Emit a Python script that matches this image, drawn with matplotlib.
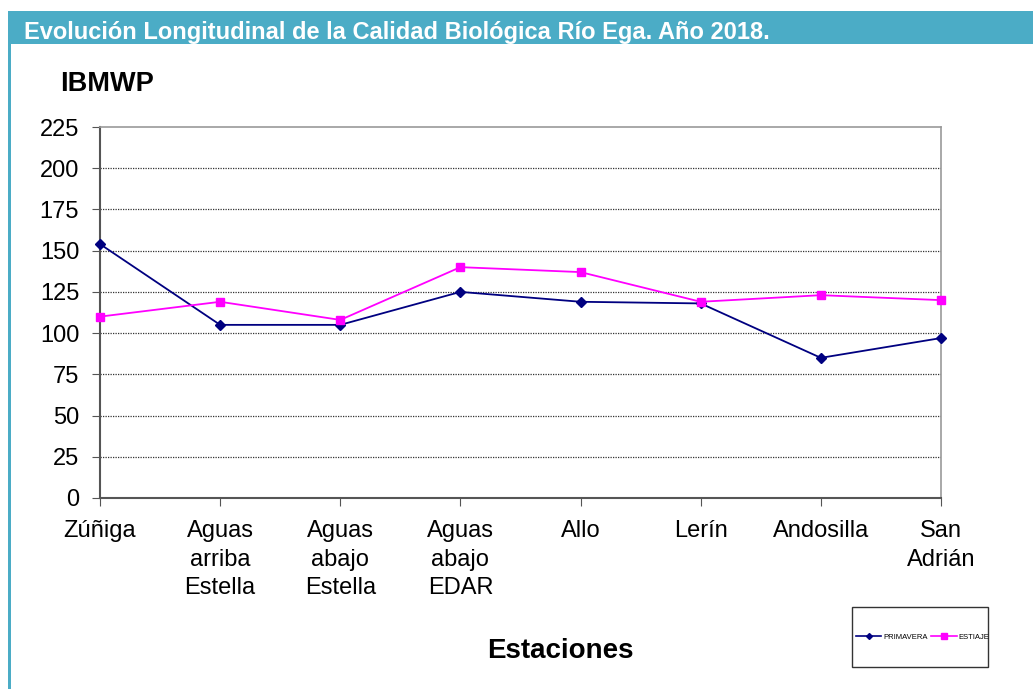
import matplotlib.pyplot as plt
from matplotlib.patches import Rectangle
from matplotlib.lines import Line2D

plt.rcParams['font.family'] = ['Liberation Sans', 'DejaVu Sans']

# data
estaciones = ["Zúñiga", "Aguas\narriba\nEstella", "Aguas\nabajo\nEstella", "Aguas\nabajo\nEDAR",
              "Allo", "Lerín", "Andosilla", "San\nAdrián"]
primavera = [154, 105, 105, 125, 119, 118, 85, 97]
estiaje = [110, 119, 108, 140, 137, 119, 123, 120]
yticks = [0, 25, 50, 75, 100, 125, 150, 175, 200, 225]

W, H = 1033, 689
fig = plt.figure(figsize=(W / 100, H / 100), dpi=100)

# header band and left border
fig.patches.append(Rectangle((8 / W, 1 - 44 / H), 1 - 8 / W, 33 / H, transform=fig.transFigure,
                             facecolor='#4BACC6', edgecolor='none'))
fig.patches.append(Rectangle((8 / W, 0), 3 / W, 1 - 44 / H, transform=fig.transFigure,
                             facecolor='#4BACC6', edgecolor='none'))
fig.text(24 / W, 1 - 32 / H, "Evolución Longitudinal de la Calidad Biológica Río Ega. Año 2018.",
         color='white', fontsize=17, fontweight='bold', va='center', ha='left')

ax = fig.add_axes([100 / W, 1 - 498 / H, 841 / W, 371 / H])
x = list(range(len(estaciones)))
ax.plot(x, primavera, color='#000080', marker='D', markersize=5, linewidth=1.3, label='PRIMAVERA',
        clip_on=False, zorder=3)
ax.plot(x, estiaje, color='#FF00FF', marker='s', markersize=6, linewidth=1.3, label='ESTIAJE',
        clip_on=False, zorder=3)

ax.set_xlim(0, 7)
ax.set_ylim(0, 225)
ax.set_yticks(yticks)
ax.set_xticks(x)
ax.set_xticklabels(estaciones, fontsize=17, linespacing=1.38)
ax.tick_params(axis='y', labelsize=17, length=6, direction='out', color='#555555', pad=9)
ax.tick_params(axis='x', length=6, direction='out', color='#555555', pad=10)
for v in yticks[1:-1]:
    ax.axhline(v, color='#333333', linewidth=0.9, linestyle=(0, (1, 1)), zorder=1)
for s in ['left', 'bottom']:
    ax.spines[s].set_color('#555555')
    ax.spines[s].set_linewidth(1.5)
for s in ['top', 'right']:
    ax.spines[s].set_color('#999999')
    ax.spines[s].set_linewidth(1.2)

fig.text(60 / W, 1 - 84 / H, "IBMWP", fontsize=19.5, fontweight='bold', va='center', ha='left')
fig.text(560 / W, 1 - 651 / H, "Estaciones", fontsize=20, fontweight='bold', va='center', ha='center')

# legend box
fig.patches.append(Rectangle((852 / W, 1 - 667 / H), 136 / W, 60 / H, transform=fig.transFigure,
                             facecolor='white', edgecolor='#333333', linewidth=1))
handles = [Line2D([], [], color='#000080', marker='D', markersize=3, linewidth=1.2),
           Line2D([], [], color='#FF00FF', marker='s', markersize=4, linewidth=1.2)]
fig.legend(handles, ['PRIMAVERA', 'ESTIAJE'], loc='center', bbox_to_anchor=(923 / W, 1 - 637 / H),
           ncol=2, frameon=False, fontsize=5.5, handlelength=3.3, handletextpad=0.3,
           columnspacing=0.4, borderpad=0)

fig.savefig("out.png", dpi=100)
